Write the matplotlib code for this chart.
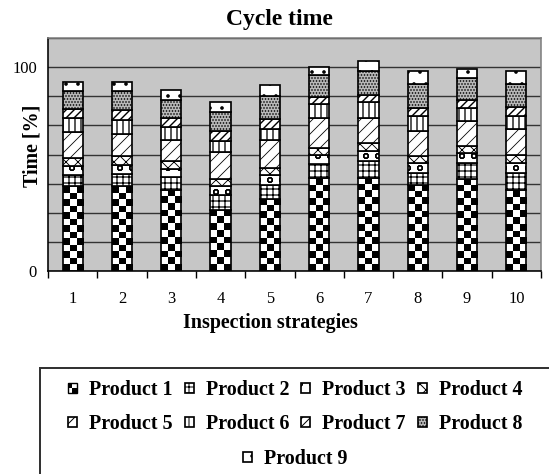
import numpy as np
import matplotlib
matplotlib.use('Agg')
import matplotlib.pyplot as plt
from matplotlib.patches import Rectangle
from matplotlib.lines import Line2D
from matplotlib.legend_handler import HandlerBase

# ---------------- data ----------------
strategies = ['1', '2', '3', '4', '5', '6', '7', '8', '9', '10']
product1 = [41.5, 41.5, 39.8, 30.0, 35.4, 45.5, 45.7, 42.2, 45.3, 39.6]
product2 = [5.7, 6.2, 6.1, 7.4, 6.9, 7.2, 8.4, 5.9, 7.6, 8.4]
product3 = [4.4, 4.4, 4.1, 4.1, 4.9, 4.2, 4.9, 4.9, 4.9, 5.1]
product4 = [3.8, 4.1, 3.8, 3.8, 3.3, 3.6, 3.7, 3.4, 3.3, 3.8]
product5 = [12.6, 11.1, 10.7, 13.1, 13.9, 14.4, 12.5, 12.5, 12.4, 12.7]
product6 = [7.0, 6.6, 6.2, 5.6, 5.4, 7.0, 7.5, 7.0, 6.6, 6.6]
product7 = [4.4, 5.2, 4.4, 4.9, 4.9, 3.3, 3.7, 3.9, 3.8, 4.1]
product8 = [8.7, 9.0, 9.0, 9.2, 11.0, 10.9, 11.6, 12.0, 10.6, 11.6]
product9 = [4.4, 4.4, 4.9, 4.8, 5.7, 4.1, 4.8, 6.3, 4.4, 6.1]
product_names = ['Product 1', 'Product 2', 'Product 3', 'Product 4', 'Product 5',
                 'Product 6', 'Product 7', 'Product 8', 'Product 9']

series = [product1, product2, product3, product4, product5,
          product6, product7, product8, product9]

# ---------------- style ----------------
plt.rcParams['font.family'] = ['Liberation Serif', 'DejaVu Serif']

styles = [
    (dict(facecolor='none'), 1.2),
    (dict(facecolor='white', hatch='++'), 1.2),
    (dict(facecolor='white', hatch='o'), 1.2),
    (dict(facecolor='white', hatch='xx'), 0.9),
    (dict(facecolor='white', hatch='//'), 0.8),
    (dict(facecolor='white', hatch='||'), 1.3),
    (dict(facecolor='white', hatch='///'), 1.4),
    (dict(facecolor='#b8b8b8', hatch='....'), 1.0),
    (dict(facecolor='white', hatch='.'), 1.2),
]

DPI = 72
fig = plt.figure(figsize=(549 / DPI, 474 / DPI), dpi=DPI)
ax = fig.add_axes([48 / 549, 1 - 271 / 474, 493 / 549, 233 / 474])
ax.set_facecolor('#c6c6c6')

x = np.arange(len(strategies))
width = 0.41
bottom = np.zeros(len(x))
containers = []
for vals, (st, hlw) in zip(series, styles):
    with plt.rc_context({'hatch.linewidth': hlw}):
        bc = ax.bar(x, vals, width, bottom=bottom, edgecolor='black',
                    linewidth=1.7, zorder=3, **st)
    containers.append(bc)
    bottom += np.array(vals)

# checkerboard fill for product 1
for rect in containers[0]:
    x0, y0 = rect.get_x(), rect.get_y()
    w, h = rect.get_width(), rect.get_height()
    nrows = max(1, int(round(h / 3.3)))
    ii, jj = np.meshgrid(np.arange(3), np.arange(nrows))
    arr = ((ii + jj) % 2).astype(float)
    im = ax.imshow(arr, cmap='gray', vmin=0, vmax=1,
                   extent=(x0, x0 + w, y0, y0 + h), origin='lower',
                   interpolation='nearest', aspect='auto', zorder=2.5)
    im.set_clip_path(rect)

ax.set_xlim(-0.5, len(x) - 0.5)
ax.set_ylim(0, 800 / 7)

# grid / ticks
yt = [k * 100 / 7 for k in range(9)]
ylabels = ['0' if abs(v) < 1e-6 else ('100' if abs(v - 100) < 1e-6 else '') for v in yt]
ax.set_yticks(yt, ylabels)
ax.yaxis.grid(True, color='#333333', linewidth=1.4)
ax.set_axisbelow(True)
ax.tick_params(axis='y', length=0, labelsize=16.5, pad=11)

ax.set_xticks(x, strategies)
ax.set_xticks(np.arange(len(x) + 1) - 0.5, minor=True)
ax.tick_params(axis='x', which='major', length=0, pad=20, labelsize=16.5)
ax.tick_params(axis='x', which='minor', length=7, width=1.4, direction='out')

for s in ['left', 'bottom']:
    ax.spines[s].set_color('black')
    ax.spines[s].set_linewidth(1.6)
for s in ['top', 'right']:
    ax.spines[s].set_color('#808080')
    ax.spines[s].set_linewidth(1.6)

fig.text(279 / 549, 1 - 20 / 474, 'Cycle time', ha='center', va='center',
         fontsize=23.6, fontweight='bold')
ax.set_xlabel('Inspection strategies', fontsize=20, fontweight='bold')
ax.xaxis.set_label_coords((270 - 48) / 493, (271 - 313) / 233)
ax.set_ylabel('Time [%]', fontsize=20, fontweight='bold')
ax.yaxis.set_label_coords((43 - 48) / 493, (271 - 146) / 233)

# legend frame
fig.add_artist(Line2D([40 / 549, 1.0], [1 - 368 / 474, 1 - 368 / 474],
                      transform=fig.transFigure, color='#333333', lw=2))
fig.add_artist(Line2D([40 / 549, 40 / 549], [1 - 368 / 474, 0.0],
                      transform=fig.transFigure, color='#333333', lw=2))


class CheckerHandler(HandlerBase):
    def create_artists(self, legend, orig_handle, xdescent, ydescent,
                       width, height, fontsize, trans):
        arts = []
        w2, h2 = width / 2, height / 2
        for i in range(2):
            for j in range(2):
                c = 'black' if (i + j) % 2 == 1 else 'white'
                arts.append(Rectangle((-xdescent + i * w2, -ydescent + j * h2), w2, h2,
                                      facecolor=c, edgecolor='none', transform=trans))
        arts.append(Rectangle((-xdescent, -ydescent), width, height, facecolor='none',
                              edgecolor='black', lw=1.4, transform=trans))
        return arts


p1_proxy = Rectangle((0, 0), 1, 1)
handles = [p1_proxy] + list(containers[1:])
order = [0, 4, 1, 5, 2, 6, 3, 7]
leg_kw = dict(frameon=False, prop=dict(weight='bold', size=20),
              handlelength=0.45, handleheight=0.45, handletextpad=0.6,
              columnspacing=0.6, labelspacing=0.7, borderpad=0.2)
fig.legend([handles[i] for i in order], [product_names[i] for i in order],
           ncol=4, loc='center', bbox_to_anchor=(295 / 549, 1 - 407 / 474),
           handler_map={p1_proxy: CheckerHandler()}, **leg_kw)
fig.legend([handles[8]], [product_names[8]], ncol=1, loc='center',
           bbox_to_anchor=(295 / 549, 1 - 459 / 474), **leg_kw)

fig.savefig('out.png', dpi=DPI)
